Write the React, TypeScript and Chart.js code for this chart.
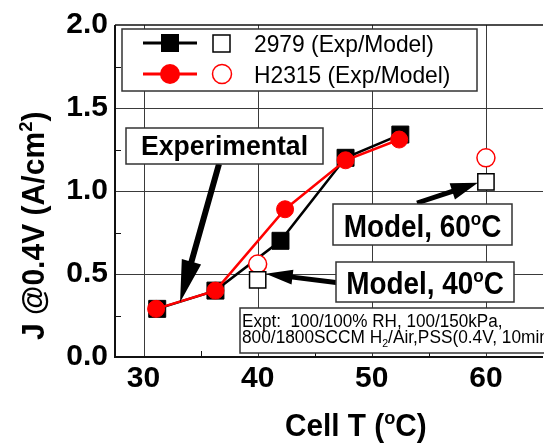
import React, { useEffect, useRef } from 'react';
import { Chart, registerables } from 'chart.js';

Chart.register(...registerables);

// Measured current density at 0.4 V versus cell temperature
const expTemp2979 = [31.2, 36.3, 42.0, 47.7, 52.5];
const expJ2979 = [0.29, 0.4, 0.7, 1.2, 1.34];
const expTempH2315 = [31.1, 36.3, 42.4, 47.7, 52.4];
const expJH2315 = [0.29, 0.4, 0.89, 1.185, 1.31];

// Model predictions
const modelTemp = [40, 60];
const modelJ2979 = [0.465, 1.055];
const modelJH2315 = [0.56, 1.2];

const xTicks = [30, 35, 40, 45, 50, 55, 60];
const yTicks = [0, 0.25, 0.5, 0.75, 1, 1.25, 1.5, 1.75, 2];
const legendLabels = ['2979 (Exp/Model)', 'H2315 (Exp/Model)'];

const FONT = '"Liberation Sans", Arial, Helvetica, sans-serif';

type Part = [string, number]; // 0 normal, 1 superscript, 2 subscript

function fontFor(size: number, bold: boolean, kind: number) {
  const s = kind ? Math.round(size * 0.62) : size;
  return `${bold ? 'bold ' : ''}${s}px ${FONT}`;
}

// Draws a run of text with super/subscripts; hscale squeezes it horizontally.
function richText(
  ctx: CanvasRenderingContext2D,
  parts: Part[],
  x: number,
  y: number,
  size: number,
  bold: boolean,
  align: 'left' | 'center' = 'left',
  hscale = 1
) {
  ctx.save();
  ctx.textBaseline = 'alphabetic';
  ctx.textAlign = 'left';
  let total = 0;
  const widths = parts.map(([t, k]) => {
    ctx.font = fontFor(size, bold, k);
    const w = ctx.measureText(t).width;
    total += w;
    return w;
  });
  const start = align === 'center' ? x - (total * hscale) / 2 : x;
  ctx.translate(start, y);
  ctx.scale(hscale, 1);
  let cx = 0;
  parts.forEach(([t, k], i) => {
    ctx.font = fontFor(size, bold, k);
    const dy = k === 1 ? -size * 0.39 : k === 2 ? size * 0.22 : 0;
    ctx.fillText(t, cx, dy);
    cx += widths[i];
  });
  ctx.restore();
}

function arrow(
  ctx: CanvasRenderingContext2D,
  x0: number,
  y0: number,
  x1: number,
  y1: number,
  shaftW: number,
  headLen: number,
  headW: number
) {
  const dx = x1 - x0;
  const dy = y1 - y0;
  const L = Math.hypot(dx, dy);
  const ux = dx / L;
  const uy = dy / L;
  const px = -uy;
  const py = ux;
  const bx = x1 - ux * headLen;
  const by = y1 - uy * headLen;
  ctx.beginPath();
  ctx.moveTo(x0 + (px * shaftW) / 2, y0 + (py * shaftW) / 2);
  ctx.lineTo(bx + (px * shaftW) / 2, by + (py * shaftW) / 2);
  ctx.lineTo(bx + (px * headW) / 2, by + (py * headW) / 2);
  ctx.lineTo(x1, y1);
  ctx.lineTo(bx - (px * headW) / 2, by - (py * headW) / 2);
  ctx.lineTo(bx - (px * shaftW) / 2, by - (py * shaftW) / 2);
  ctx.lineTo(x0 - (px * shaftW) / 2, y0 - (py * shaftW) / 2);
  ctx.closePath();
  ctx.fill();
}

function box(ctx: CanvasRenderingContext2D, x: number, y: number, w: number, h: number) {
  ctx.save();
  ctx.fillStyle = '#fff';
  ctx.fillRect(x, y, w, h);
  ctx.strokeStyle = '#333';
  ctx.lineWidth = 1.5;
  ctx.strokeRect(x, y, w, h);
  ctx.restore();
}

const frame = {
  id: 'frame',
  beforeDatasetsDraw(chart: any) {
    const { ctx, chartArea: a, scales } = chart;
    const xs = scales.x;
    const ys = scales.y;
    ctx.save();
    // grid
    ctx.strokeStyle = '#3a3a3a';
    ctx.lineWidth = 1;
    xTicks.forEach((v) => {
      if (v % 10 !== 0) return;
      const px = Math.round(xs.getPixelForValue(v)) + 0.5;
      ctx.beginPath();
      ctx.moveTo(px, a.top);
      ctx.lineTo(px, a.bottom);
      ctx.stroke();
    });
    yTicks.forEach((v) => {
      if (v === 0 || v === 2 || Math.abs(v * 2 - Math.round(v * 2)) > 1e-6) return;
      const py = Math.round(ys.getPixelForValue(v)) + 0.5;
      ctx.beginPath();
      ctx.moveTo(a.left, py);
      ctx.lineTo(a.right, py);
      ctx.stroke();
    });
    // minor inward ticks
    ctx.strokeStyle = '#111';
    ctx.lineWidth = 1;
    xTicks.forEach((v) => {
      if (v % 10 === 0) return;
      const px = Math.round(xs.getPixelForValue(v)) + 0.5;
      ctx.beginPath();
      ctx.moveTo(px, a.bottom);
      ctx.lineTo(px, a.bottom - 6);
      ctx.stroke();
    });
    yTicks.forEach((v) => {
      if (Math.abs(v * 2 - Math.round(v * 2)) < 1e-6) return;
      const py = Math.round(ys.getPixelForValue(v)) + 0.5;
      ctx.beginPath();
      ctx.moveTo(a.left, py);
      ctx.lineTo(a.left + 6, py);
      ctx.stroke();
    });
    // axes
    ctx.strokeStyle = '#111';
    ctx.lineWidth = 1.5;
    ctx.beginPath();
    ctx.moveTo(a.right, a.top);
    ctx.lineTo(a.left, a.top);
    ctx.stroke();
    ctx.lineWidth = 2;
    ctx.beginPath();
    ctx.moveTo(a.left, a.top);
    ctx.lineTo(a.left, a.bottom);
    ctx.lineTo(a.right, a.bottom);
    ctx.stroke();
    ctx.restore();
  },
  afterDatasetsDraw(chart: any) {
    const { ctx, scales } = chart;
    const xs = scales.x;
    const ys = scales.y;
    ctx.save();
    ctx.fillStyle = '#000';

    // "Experimental" callout
    arrow(ctx, 219, 164, xs.getPixelForValue(33.2), ys.getPixelForValue(0.33), 6, 42, 20);
    box(ctx, 126, 128, 197, 36);
    ctx.fillStyle = '#000';
    richText(ctx, [['Experimental', 0]], 224.5, 155, 28, true, 'center', 0.95);

    // Model callouts
    arrow(ctx, 417, 203, xs.getPixelForValue(60) - 8, ys.getPixelForValue(modelJ2979[1]) + 1, 5, 27, 17);
    arrow(ctx, 340, 283, xs.getPixelForValue(40) + 8, ys.getPixelForValue(modelJ2979[0]) - 6, 5, 27, 15);
    box(ctx, 333, 204, 179, 41);
    box(ctx, 336, 262, 178, 40);
    ctx.fillStyle = '#000';
    richText(ctx, [['Model, 60', 0], ['o', 1], ['C', 0]], 422.5, 237, 31, true, 'center', 0.9);
    richText(ctx, [['Model, 40', 0], ['o', 1], ['C', 0]], 425, 294, 31, true, 'center', 0.9);

    // experimental conditions
    box(ctx, 240, 308, 340, 45);
    ctx.fillStyle = '#000';
    richText(ctx, [['Expt:  100/100% RH, 100/150kPa,', 0]], 242, 327, 18, false, 'left', 0.95);
    richText(ctx, [['800/1800SCCM H', 0], ['2', 2], ['/Air,PSS(0.4V, 10min)', 0]], 242, 343, 18, false, 'left', 0.96);

    // legend
    box(ctx, 122, 29, 355, 62);
    const rows = [
      { y: 43, color: '#000', shape: 'rect' },
      { y: 74, color: '#ff0000', shape: 'circle' },
    ];
    rows.forEach((r, i) => {
      ctx.strokeStyle = r.color;
      ctx.fillStyle = r.color;
      ctx.lineWidth = 3;
      ctx.beginPath();
      ctx.moveTo(143, r.y);
      ctx.lineTo(197, r.y);
      ctx.stroke();
      if (r.shape === 'rect') {
        ctx.fillRect(161, r.y - 9, 18, 18);
        ctx.fillStyle = '#fff';
        ctx.lineWidth = 1.5;
        ctx.fillRect(213, r.y - 8, 17, 17);
        ctx.strokeRect(213, r.y - 8, 17, 17);
      } else {
        ctx.beginPath();
        ctx.arc(170, r.y, 10, 0, Math.PI * 2);
        ctx.fill();
        ctx.fillStyle = '#fff';
        ctx.lineWidth = 1.5;
        ctx.beginPath();
        ctx.arc(222, r.y, 9.5, 0, Math.PI * 2);
        ctx.fill();
        ctx.stroke();
      }
      ctx.fillStyle = '#000';
      richText(ctx, [[legendLabels[i], 0]], 254, r.y + 9, 24, false, 'left', 0.95);
    });

    // axis titles
    ctx.fillStyle = '#000';
    richText(ctx, [['Cell T (', 0], ['o', 1], ['C)', 0]], 285, 436, 31, true, 'left', 0.96);
    ctx.translate(44, 340);
    ctx.rotate(-Math.PI / 2);
    richText(ctx, [['J @0.4V (A/cm', 0], ['2', 1], [')', 0]], 0, 0, 31, true, 'left', 0.97);
    ctx.restore();
  },
};

export default function App() {
  const ref = useRef<HTMLCanvasElement>(null);

  useEffect(() => {
    if (!ref.current) return;
    const pts = (xs: number[], ys: number[]) => xs.map((x, i) => ({ x, y: ys[i] }));
    const chart = new Chart(ref.current, {
      type: 'scatter',
      data: {
        datasets: [
          {
            label: '2979 model',
            data: pts(modelTemp, modelJ2979),
            showLine: false,
            pointStyle: 'rect',
            pointRadius: 11.5,
            pointBackgroundColor: '#fff',
            pointBorderColor: '#000',
            pointBorderWidth: 1.5,
            order: 0,
          },
          {
            label: 'H2315 model',
            data: pts(modelTemp, modelJH2315),
            showLine: false,
            pointStyle: 'circle',
            pointRadius: 9,
            pointBackgroundColor: '#fff',
            pointBorderColor: '#ff0000',
            pointBorderWidth: 1.5,
            order: 1,
          },
          {
            label: 'H2315 exp',
            data: pts(expTempH2315, expJH2315),
            showLine: true,
            borderColor: '#ff0000',
            borderWidth: 2.5,
            pointStyle: 'circle',
            pointRadius: 8.5,
            pointBackgroundColor: '#ff0000',
            pointBorderColor: '#ff0000',
            pointBorderWidth: 1,
            order: 2,
          },
          {
            label: '2979 exp',
            data: pts(expTemp2979, expJ2979),
            showLine: true,
            borderColor: '#000',
            borderWidth: 2.5,
            pointStyle: 'rect',
            pointRadius: 12,
            pointBackgroundColor: '#000',
            pointBorderColor: '#000',
            pointBorderWidth: 1,
            order: 3,
          },
        ],
      },
      options: {
        responsive: false,
        animation: false,
        events: [],
        layout: { padding: { top: 23, left: 0, right: 0, bottom: 0 } },
        plugins: { legend: { display: false }, tooltip: { enabled: false } },
        scales: {
          x: {
            type: 'linear',
            min: 27.5,
            max: 65,
            afterBuildTicks: (s: any) => {
              s.ticks = xTicks.map((value) => ({ value }));
            },
            afterFit: (s: any) => {
              s.height = 87;
            },
            grid: { display: false, drawTicks: false },
            border: { display: false },
            ticks: {
              autoSkip: false,
              maxRotation: 0,
              padding: 4,
              color: '#000',
              font: { family: FONT, size: 30, weight: 'bold' },
              callback: (v: any) => (Number(v) % 10 === 0 ? String(v) : ''),
            },
          },
          y: {
            min: 0,
            max: 2,
            afterBuildTicks: (s: any) => {
              s.ticks = yTicks.map((value) => ({ value }));
            },
            afterFit: (s: any) => {
              s.width = 115;
            },
            grid: { display: false, drawTicks: false },
            border: { display: false },
            ticks: {
              autoSkip: false,
              padding: 7,
              color: '#000',
              font: { family: FONT, size: 30, weight: 'bold' },
              callback: (v: any) => {
                const n = Number(v);
                return Math.abs(n * 2 - Math.round(n * 2)) < 1e-6 ? n.toFixed(1) : '';
              },
            },
          },
        },
      },
      plugins: [frame],
    });
    return () => chart.destroy();
  }, []);

  return (
    <div
      style={{
        position: 'fixed',
        left: 0,
        top: 0,
        width: 544,
        height: 444,
        overflow: 'hidden',
        background: '#fff',
      }}
    >
      <canvas ref={ref} width={556} height={444} style={{ display: 'block' }} />
    </div>
  );
}
